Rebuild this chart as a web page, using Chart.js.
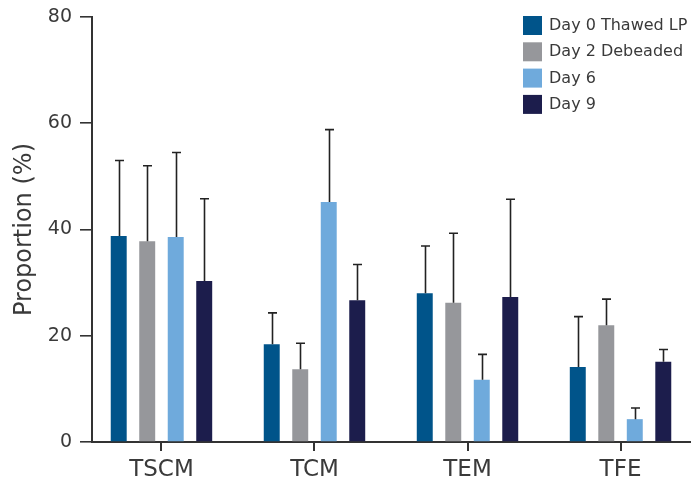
<!DOCTYPE html>
<html>
<head>
<meta charset="utf-8">
<script src="https://cdn.jsdelivr.net/npm/chart.js@4"></script>
<style>
html,body{margin:0;padding:0;background:#fff;}
#wrap{width:691px;height:485px;}
</style>
</head>
<body>
<div id="wrap"><canvas id="c" width="691" height="485"></canvas></div>
<script>
const categories = ['TSCM', 'TCM', 'TEM', 'TFE'];
const seriesNames = ['Day 0 Thawed LP', 'Day 2 Debeaded', 'Day 6', 'Day 9'];
const day0 = [38.8, 18.4, 28.0, 14.1];
const day2 = [37.8, 13.7, 26.2, 22.0];
const day6 = [38.6, 45.2, 11.7, 4.3];
const day9 = [30.3, 26.7, 27.3, 15.1];
const err0 = [14.2, 5.9, 8.9, 9.5];
const err2 = [14.2, 4.9, 13.1, 4.9];
const err6 = [15.9, 13.6, 4.8, 2.1];
const err9 = [15.5, 6.7, 18.4, 2.3];
const yTicks = [0, 20, 40, 60, 80];

const colors = ['#00548A', '#96979B', '#6FAADC', '#1C1D4C'];
const values = [day0, day2, day6, day9];
const errors = [err0, err2, err6, err9];
const FONT = '"DejaVu Sans", "Liberation Sans", sans-serif';
const TXT = '#3a3a3a';
const AXIS = '#333';

const datasets = values.map((vals, k) => ({
  label: seriesNames[k],
  data: vals.map((v, i) => ({x: i, y: v})),
  backgroundColor: colors[k],
  borderWidth: 0,
  errors: errors[k],
  categoryPercentage: 0.745,
  barPercentage: 0.56
}));

const errorBars = {
  id: 'errorBars',
  afterDatasetsDraw(chart) {
    const ctx = chart.ctx;
    const yS = chart.scales.y;
    ctx.save();
    ctx.strokeStyle = '#222';
    ctx.lineWidth = 1.6;
    chart.data.datasets.forEach((ds, k) => {
      const meta = chart.getDatasetMeta(k);
      meta.data.forEach((bar, i) => {
        const v = ds.data[i].y;
        const top = yS.getPixelForValue(v + ds.errors[i]);
        const x = Math.round(bar.x) + 0.5;
        ctx.beginPath();
        ctx.moveTo(x, bar.y);
        ctx.lineTo(x, top);
        ctx.moveTo(x - 4.5, top);
        ctx.lineTo(x + 4.5, top);
        ctx.stroke();
      });
    });
    ctx.restore();
  }
};

const xTickMarks = {
  id: 'xTickMarks',
  afterDraw(chart) {
    const ctx = chart.ctx;
    const xs = chart.scales.x;
    const bottom = chart.chartArea.bottom;
    ctx.save();
    ctx.fillStyle = AXIS;
    categories.forEach((c, i) => {
      const x = Math.round(xs.getPixelForValue(i));
      ctx.fillRect(x - 1, bottom, 2, 9);
    });
    ctx.restore();
  }
};

const legendPlugin = {
  id: 'customLegend',
  afterDraw(chart) {
    const ctx = chart.ctx;
    ctx.save();
    ctx.font = '16px ' + FONT;
    ctx.textBaseline = 'middle';
    ctx.textAlign = 'left';
    chart.data.datasets.forEach((ds, k) => {
      const y = 16 + k * 26.3;
      ctx.fillStyle = ds.backgroundColor;
      ctx.fillRect(523, y, 19, 19);
      ctx.fillStyle = TXT;
      ctx.fillText(ds.label, 549, y + 10);
    });
    ctx.restore();
  }
};

new Chart(document.getElementById('c'), {
  type: 'bar',
  data: { datasets },
  plugins: [errorBars, xTickMarks, legendPlugin],
  options: {
    responsive: false,
    animation: false,
    devicePixelRatio: 1,
    layout: { padding: { top: 17, right: 1, left: 0, bottom: 0 } },
    plugins: { legend: { display: false }, tooltip: { enabled: false } },
    scales: {
      x: {
        type: 'linear',
        min: -0.454,
        max: 3.454,
        offset: false,
        afterBuildTicks: s => { s.ticks = categories.map((c, i) => ({value: i})); },
        afterFit: s => { s.height = 43; },
        ticks: {
          stepSize: 1,
          autoSkip: false,
          maxRotation: 0,
          padding: 6,
          color: TXT,
          font: { family: FONT, size: 23 },
          callback: v => categories[v]
        },
        grid: { offset: false, drawOnChartArea: false, drawTicks: true, tickLength: 8, color: AXIS, lineWidth: 2 },
        border: { display: true, color: AXIS, width: 2 }
      },
      y: {
        min: 0,
        max: 80,
        afterBuildTicks: s => { s.ticks = yTicks.map(v => ({value: v})); },
        afterFit: s => { s.width = 92; s.paddingTop = 0; s.paddingBottom = 0; },
        ticks: {
          padding: 8,
          color: TXT,
          font: { family: FONT, size: 19 }
        },
        title: {
          display: true,
          text: 'Proportion (%)',
          color: TXT,
          font: { family: FONT, size: 24 },
          padding: { top: 10, bottom: 0 }
        },
        grid: { drawOnChartArea: false, drawTicks: true, tickLength: 12, color: AXIS, lineWidth: 1.6 },
        border: { display: true, color: AXIS, width: 2 }
      }
    }
  }
});
</script>
</body>
</html>
